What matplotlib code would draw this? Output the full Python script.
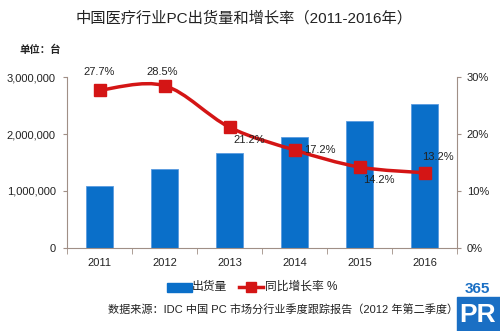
import matplotlib.pyplot as plt
from matplotlib.path import Path
from matplotlib.patches import PathPatch, Rectangle
from matplotlib.lines import Line2D
from matplotlib.ticker import FuncFormatter

plt.rcParams['font.family'] = ['Liberation Sans', 'Noto Sans CJK SC']

years = ['2011', '2012', '2013', '2014', '2015', '2016']
shipments = [1080000, 1380000, 1660000, 1950000, 2230000, 2520000]
growth = [27.7, 28.5, 21.2, 17.2, 14.2, 13.2]
growth_labels = ['27.7%', '28.5%', '21.2%', '17.2%', '14.2%', '13.2%']

bar_color = '#0a6fc9'
line_color = '#d41515'
spine_color = '#a08f86'
text_color = '#222222'

fig = plt.figure(figsize=(5, 3.31), dpi=100)
ax = fig.add_axes([0.134, 0.251, 0.78, 0.516])
ax2 = ax.twinx()

x = list(range(len(years)))
ax.bar(x, shipments, width=0.42, color=bar_color, edgecolor='#5a9be0', linewidth=0.6, zorder=2)
ax.set_xlim(-0.5, 5.5)
ax.set_ylim(0, 3000000)
ax.set_yticks([0, 1000000, 2000000, 3000000])
ax.yaxis.set_major_formatter(FuncFormatter(lambda v, p: f'{int(v):,}'))
ax.set_xticks(x)
ax.set_xticklabels(years)
ax.set_xticks([i + 0.5 for i in range(-1, 6)], minor=True)
ax.tick_params(axis='x', which='major', length=0, pad=7, labelsize=8, labelcolor=text_color)
ax.tick_params(axis='x', which='minor', length=4, color=spine_color)
ax.tick_params(axis='y', length=3, color=spine_color, labelsize=8, labelcolor=text_color, pad=5)

ax2.set_ylim(0, 30)
ax2.set_yticks([0, 10, 20, 30])
ax2.yaxis.set_major_formatter(FuncFormatter(lambda v, p: f'{int(v)}%'))
ax2.tick_params(axis='y', length=3, color=spine_color, labelsize=8, labelcolor=text_color, pad=4)

for a in (ax, ax2):
    a.spines['top'].set_visible(False)
    for s in ('left', 'right', 'bottom'):
        a.spines[s].set_color(spine_color)
ax.spines['right'].set_visible(False)
ax2.spines['left'].set_visible(False)
ax2.spines['bottom'].set_visible(False)

# smoothed line (Catmull-Rom style bezier like Excel)
pts = list(zip(x, growth))
verts = [pts[0]]
codes = [Path.MOVETO]
n = len(pts)
for i in range(n - 1):
    p0 = pts[i - 1] if i > 0 else pts[i]
    p1 = pts[i]
    p2 = pts[i + 1]
    p3 = pts[i + 2] if i + 2 < n else pts[i + 1]
    c1 = (p1[0] + (p2[0] - p0[0]) / 6, p1[1] + (p2[1] - p0[1]) / 6)
    c2 = (p2[0] - (p3[0] - p1[0]) / 6, p2[1] - (p3[1] - p1[1]) / 6)
    verts += [c1, c2, p2]
    codes += [Path.CURVE4] * 3
ax2.add_patch(PathPatch(Path(verts, codes), fill=False, edgecolor=line_color, linewidth=2.5, zorder=3))
ax2.plot(x, growth, linestyle='none', marker='s', markersize=8, color=line_color, zorder=4)

offsets = [(0, 13), (-2, 10), (14, -9), (18, 0), (14, -9), (10, 11)]
for xi, yi, lab, off in zip(x, growth, growth_labels, offsets):
    ax2.annotate(lab, (xi, yi), xytext=off, textcoords='offset points', ha='center', va='center',
                 fontsize=8, color=text_color)

fig.text(0.488, 0.945, '中国医疗行业PC出货量和增长率（2011-2016年）', ha='center', va='center',
         fontsize=11, color=text_color)
fig.text(0.04, 0.85, '单位：台', ha='left', va='center', fontsize=7.5, fontweight='bold', color=text_color)

# legend
leg_y = (331 - 287) / 331
fig.patches.append(Rectangle((167 / 500, leg_y - 4.5 / 331), 25 / 500, 9 / 331,
                             transform=fig.transFigure, color=bar_color))
fig.text(192 / 500, leg_y, '出货量', ha='left', va='center', fontsize=8.5, color=text_color)
fig.lines.append(Line2D([239 / 500, 263 / 500], [leg_y, leg_y], transform=fig.transFigure,
                        color=line_color, linewidth=2.5))
fig.lines.append(Line2D([251 / 500], [leg_y], transform=fig.transFigure, color=line_color,
                        marker='s', markersize=7, linestyle='none'))
fig.text(265 / 500, leg_y, '同比增长率 %', ha='left', va='center', fontsize=8.5, color=text_color)

fig.text(108 / 500, (331 - 309) / 331, '数据来源：IDC 中国 PC 市场分行业季度跟踪报告（2012 年第二季度）',
         ha='left', va='center', fontsize=8, color=text_color)

# logo
fig.patches.append(Rectangle((457 / 500, 0), 43 / 500, 34 / 331, transform=fig.transFigure,
                             color='#1a6fc4', zorder=5))
fig.text(477 / 500, 42 / 331, '365', ha='center', va='center', fontsize=11, fontweight='bold',
         color='#1a6fc4', zorder=6)
fig.text(478 / 500, 16 / 331, 'PR', ha='center', va='center', fontsize=19, fontweight='bold',
         color='white', zorder=6)

fig.savefig('out.png', dpi=100)
